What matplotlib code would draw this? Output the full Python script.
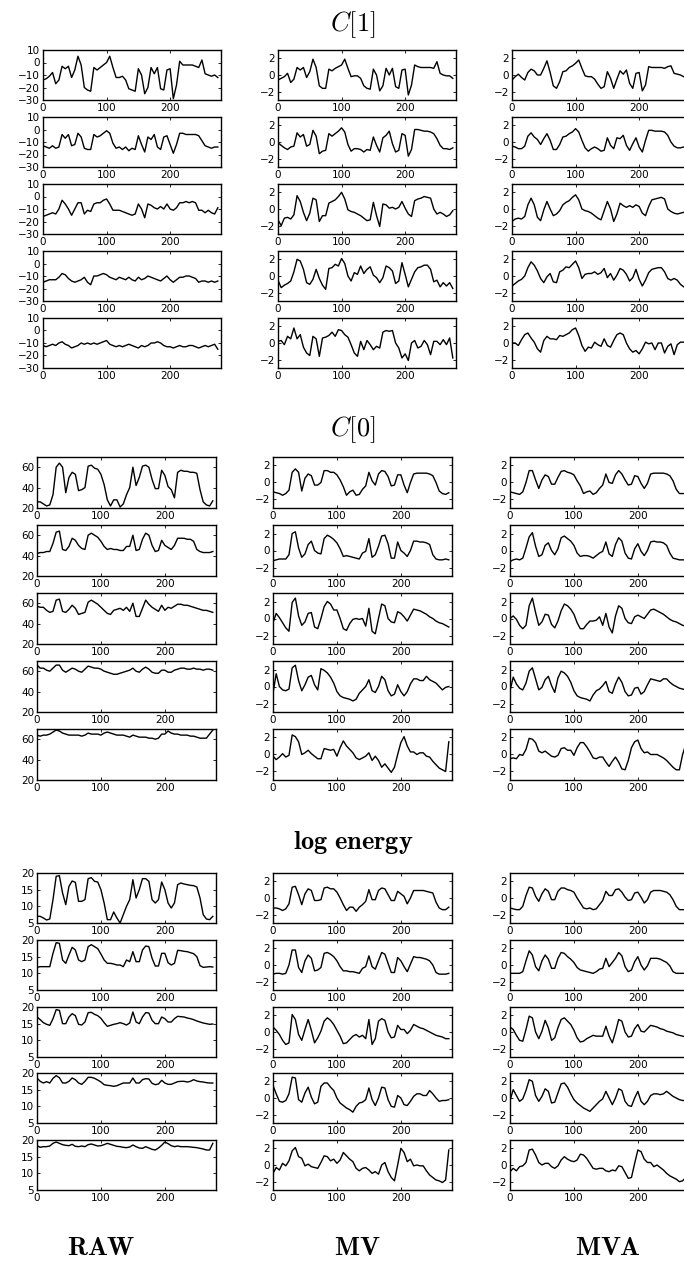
import numpy as np
import matplotlib
matplotlib.use('Agg')
import matplotlib.pyplot as plt

plt.rcParams['font.family'] = ['DejaVu Sans']
plt.rcParams['mathtext.fontset'] = 'cm'

# every 5th frame
frames = np.arange(0, 280, 5)

# ---- C[1] ----
c1_raw_1 = [-14, -13, -11, -8, -17, -14, -3, -5, -3, -12, -6, 5, -2, -20, -22, -23,
            -4, -6, -4, -2, 0, 5, -4, -12, -12, -11, -14, -21, -22, -23, -5, -10,
            -25, -20, -4, -9, -4, -21, -22, -6, -5, -29, -18, 1, -2, -2, -2, -2,
            -3, -4, 2, -9, -10, -11, -10, -12]
c1_raw_2 = [-13, -14, -15, -13, -15, -14, -4, -7, -4, -13, -12, -3, -6, -15, -16, -16,
            -4, -6, -5, -3, -1, -3, -11, -15, -14, -16, -14, -17, -15, -16, -5, -12,
            -18, -6, -8, -4, -14, -16, -6, -5, -12, -19, -12, -3, -3, -4, -4, -4,
            -4, -5, -9, -13, -14, -15, -14, -14]
c1_raw_3 = [-16, -15, -14, -13, -14, -10, -3, -6, -10, -15, -10, -5, -5, -14, -11, -12,
            -6, -5, -5, -3, -2, -6, -11, -11, -11, -12, -13, -14, -15, -14, -6, -10,
            -17, -6, -7, -9, -10, -8, -10, -6, -10, -11, -9, -5, -5, -4, -5, -4,
            -5, -11, -11, -13, -11, -13, -14, -9]
c1_raw_4 = [-15, -14, -13, -13, -13, -11, -8, -9, -12, -14, -15, -14, -13, -11, -15, -17,
            -10, -10, -9, -8, -9, -11, -12, -13, -11, -12, -13, -11, -13, -14, -11, -13,
            -12, -10, -11, -12, -13, -14, -12, -10, -13, -15, -13, -11, -11, -10, -10, -11,
            -12, -15, -14, -14, -15, -14, -15, -14]
c1_raw_5 = [-12, -13, -12, -11, -12, -10, -9, -11, -12, -14, -13, -12, -10, -11, -10, -11,
            -10, -11, -10, -9, -8, -11, -12, -13, -12, -13, -12, -11, -12, -13, -14, -12,
            -13, -12, -10, -10, -9, -10, -12, -13, -13, -14, -13, -12, -13, -13, -12, -12,
            -13, -14, -13, -12, -13, -12, -11, -15]

c1_mv_1 = [-0.6, -0.4, -0.2, 0.2, -0.9, -0.5, 0.9, 0.6, 0.9, -0.3, 0.4, 1.9, 0.9, -1.3, -1.6, -1.6,
           0.7, 0.5, 0.8, 1.0, 1.2, 1.9, 0.8, -0.2, -0.1, -0.1, -0.4, -1.3, -1.6, -1.7, 0.7, 0.0,
           -1.9, -1.3, 0.8, 0.0, 0.8, -1.4, -1.6, 0.6, 0.7, -2.4, -1.2, 1.2, 1.0, 0.9, 0.9, 0.9,
           0.9, 0.8, 1.6, 0.2, 0.0, -0.1, -0.1, -0.4]
c1_mv_2 = [-0.1, -0.4, -0.7, -0.9, -0.6, -0.5, 1.1, 0.6, 0.9, -0.5, -0.3, 1.4, 0.7, -1.4, -1.1, -1.0,
           1.0, 0.7, 1.0, 1.3, 1.7, 1.2, -0.3, -1.1, -0.8, -0.8, -0.9, -1.2, -0.9, -1.0, 0.6, -0.4,
           -1.2, 0.5, 0.8, 1.3, -0.2, -1.2, -1.0, 1.0, 0.8, -1.7, -0.9, 1.5, 1.5, 1.4, 1.3, 1.3,
           1.2, 1.0, 0.4, -0.4, -0.8, -0.8, -0.9, -0.7]
c1_mv_3 = [-1.3, -2.0, -1.1, -1.0, -1.2, -0.7, 1.6, 0.9, -0.4, -1.4, -0.5, 1.3, 1.1, -1.5, -0.8, -0.8,
           0.7, 0.9, 1.1, 1.5, 2.0, 1.2, -0.1, -0.3, -0.4, -0.6, -0.8, -1.1, -1.4, -1.3, 0.8, -0.8,
           -2.1, 0.6, 0.5, 0.1, 0.2, 0.0, 0.2, 0.9, 0.1, -0.6, -0.9, 1.0, 1.2, 1.3, 1.5, 1.4,
           1.3, 0.0, -0.6, -0.4, -0.6, -0.9, -0.7, -0.2]
c1_mv_4 = [-0.5, -1.4, -1.1, -0.9, -0.6, 0.5, 2.0, 1.8, 0.8, -0.8, -1.0, -0.4, 0.8, -0.3, -1.1, -1.6,
           0.9, 1.0, 1.4, 1.2, 2.1, 1.5, 0.0, -0.6, 0.4, 0.2, 1.2, 0.3, 0.8, 1.1, 0.1, -0.2,
           -0.8, -0.2, 1.2, 1.0, 0.6, -0.9, -0.6, 1.6, 0.2, -1.3, -0.4, 0.5, 1.0, 1.1, 1.3, 1.3,
           0.8, -0.7, -0.5, -1.3, -0.8, -1.2, -0.8, -1.5]
c1_mv_5 = [0.2, 0.3, -0.2, 0.8, 0.5, 1.8, 0.5, 1.0, -0.5, -1.2, -1.5, 0.8, 0.5, -1.6, 0.6, 0.7,
           0.9, 1.3, 0.8, 1.6, 1.5, 1.0, 0.7, -0.2, -1.2, -1.6, 0.2, -0.8, 0.3, -0.2, -0.8, -0.4,
           -0.6, 1.3, 1.5, 1.4, 1.5, 0.0, -0.6, -1.8, -1.3, -2.1, 0.0, 0.3, -0.6, -0.4, 0.3, -0.2,
           -1.4, 0.2, 0.2, -0.2, 0.4, -0.2, 0.6, -1.8]

c1_mva_1 = [-0.6, -0.2, 0.1, -0.3, -0.6, 0.3, 0.7, 0.5, 0.0, 0.0, 0.8, 1.7, 0.3, -1.3, -1.6, -0.8,
            0.4, 0.5, 0.9, 1.1, 1.4, 1.8, 0.8, -0.1, -0.2, -0.2, -0.5, -1.1, -1.6, -1.4, 0.4, -0.4,
            -1.6, -0.5, 0.5, 0.1, 0.6, -1.0, -1.6, 0.2, 0.3, -1.9, -1.2, 1.0, 0.9, 0.9, 0.9, 0.9,
            0.8, 1.0, 1.1, 0.2, 0.1, 0.0, -0.2, -0.4]
c1_mva_2 = [-0.5, -0.6, -0.8, -0.8, -0.5, 0.7, 1.1, 0.6, 0.3, -0.3, 0.4, 1.0, 0.2, -0.9, -0.9, -0.3,
            0.6, 0.7, 1.0, 1.2, 1.6, 1.2, 0.2, -0.7, -1.1, -0.8, -0.6, -0.8, -1.1, -1.0, 0.5, -0.4,
            -0.8, 0.5, 0.4, 0.8, -0.4, -1.0, -0.2, 0.5, -0.6, -1.2, 0.2, 1.4, 1.4, 1.3, 1.3, 1.3,
            1.2, 0.8, 0.0, -0.5, -0.7, -0.7, -0.6, -0.6]
c1_mva_3 = [-1.5, -1.2, -1.1, -1.2, -0.9, 0.5, 1.3, 0.5, -1.0, -1.4, -0.1, 0.9, 0.0, -0.8, -0.6, -0.2,
            0.5, 0.8, 1.0, 1.4, 1.7, 1.1, 0.0, -0.2, -0.3, -0.5, -0.8, -1.1, -1.3, -0.2, 0.9, 0.0,
            -1.5, -0.6, 0.7, 0.4, 0.2, 0.4, 0.2, 0.5, 0.3, -0.5, -0.8, 0.3, 1.1, 1.2, 1.3, 1.4,
            1.2, 0.0, -0.3, -0.5, -0.6, -0.5, -0.4, -0.5]
c1_mva_4 = [-1.2, -0.9, -0.6, -0.4, 0.0, 1.0, 1.7, 1.3, 0.6, -0.3, -0.8, -0.1, 0.3, -0.7, -0.8, 0.5,
            0.7, 1.1, 1.0, 1.4, 1.8, 1.0, -0.3, 0.2, 0.3, 0.3, 0.5, 0.2, 0.4, 0.9, -0.2, 0.3,
            -0.5, 0.1, 0.9, 0.7, 0.2, -0.6, -0.2, 0.8, -0.4, -1.2, -0.5, 0.4, 0.8, 0.9, 1.0, 1.0,
            0.5, -0.3, -0.5, -0.3, -0.5, -1.0, -1.3, -1.4]
c1_mva_5 = [0.0, 0.0, -0.3, 0.4, 1.0, 1.2, 0.6, 0.1, -0.7, -1.1, 0.3, 0.8, 0.5, 0.5, 0.4, 0.9,
            0.8, 1.0, 1.2, 1.6, 1.8, 0.9, -0.3, -1.0, -0.5, -0.6, 0.1, -0.2, -0.4, 0.5, -0.3, -0.5,
            0.3, 1.0, 1.2, 1.0, 0.0, -0.7, -1.1, -0.9, -1.3, -0.7, 0.1, -0.1, 0.0, -0.8, 0.0, 0.0,
            -1.2, -0.4, -0.1, -1.4, -0.2, 0.1, 0.1, 0.0]

# ---- C[0] ----
c0_raw_1 = [26, 26, 24, 22, 23, 33, 60, 64, 60, 35, 50, 55, 53, 37, 38, 40,
            61, 62, 59, 58, 53, 43, 28, 22, 28, 28, 21, 24, 33, 40, 60, 42,
            50, 61, 62, 60, 48, 39, 39, 57, 52, 41, 38, 30, 55, 57, 56, 56,
            55, 55, 54, 38, 26, 23, 22, 27]
c0_raw_2 = [42, 43, 43, 44, 44, 52, 63, 64, 46, 45, 49, 57, 55, 50, 47, 46,
            60, 62, 60, 58, 54, 49, 46, 47, 46, 46, 45, 45, 49, 49, 60, 45,
            46, 56, 62, 60, 50, 44, 45, 55, 50, 48, 46, 50, 57, 57, 57, 56,
            56, 54, 46, 44, 43, 43, 43, 44]
c0_raw_3 = [57, 56, 56, 53, 51, 52, 63, 64, 52, 51, 54, 58, 55, 49, 50, 51,
            61, 63, 61, 59, 56, 53, 50, 49, 53, 54, 55, 53, 56, 52, 60, 47,
            47, 55, 63, 59, 56, 54, 52, 58, 53, 56, 55, 57, 59, 59, 58, 58,
            57, 56, 55, 54, 53, 53, 52, 51]
c0_raw_4 = [66, 63, 63, 61, 60, 63, 66, 66, 61, 59, 61, 63, 62, 60, 59, 62,
            65, 64, 63, 63, 62, 60, 59, 58, 57, 57, 58, 59, 60, 61, 63, 60,
            59, 62, 64, 62, 59, 58, 58, 61, 61, 59, 59, 61, 62, 63, 63, 62,
            62, 63, 62, 62, 61, 62, 62, 61]
c0_raw_5 = [64, 63, 64, 64, 65, 67, 69, 68, 66, 65, 64, 64, 64, 64, 63, 64,
            66, 65, 65, 65, 64, 66, 67, 66, 65, 64, 64, 64, 63, 62, 64, 63,
            62, 62, 62, 61, 61, 60, 61, 65, 65, 68, 66, 65, 65, 64, 64, 64,
            63, 63, 62, 61, 61, 61, 65, 69]

c0_mv_1 = [-1.1, -1.2, -1.3, -1.5, -1.3, -0.9, 1.2, 1.6, 1.2, -1.0, 0.5, 1.0, 0.8, -0.3, -0.3, 0.0,
           1.4, 1.4, 1.2, 1.2, 0.9, 0.3, -0.5, -1.5, -1.1, -0.9, -1.5, -1.4, -0.8, -0.4, 1.2, 0.2,
           -0.3, 1.0, 1.4, 1.3, 0.7, -0.4, -0.3, 0.9, 0.9, -0.3, -1.2, 0.0, 1.0, 1.1, 1.1, 1.1,
           1.1, 1.0, 0.8, 0.0, -1.0, -1.3, -1.4, -1.2]
c0_mv_2 = [-1.2, -1.1, -1.0, -1.0, -1.0, -0.5, 2.0, 2.2, 0.3, -0.8, -0.4, 0.7, 1.1, 0.0, -0.3, -0.4,
           1.4, 1.8, 1.6, 1.3, 0.9, 0.2, -0.7, -0.6, -0.7, -0.8, -0.9, -1.0, -0.3, -0.1, 1.4, -0.8,
           -0.5, 0.5, 1.7, 1.8, 0.8, -0.9, -0.9, 1.0, 0.0, -0.3, -0.7, 0.0, 1.1, 1.1, 1.0, 1.0,
           0.9, 0.7, -0.5, -1.0, -1.1, -1.1, -1.0, -1.1]
c0_mv_3 = [-0.5, 0.6, 0.1, -0.5, -1.1, -1.5, 1.9, 2.4, 0.3, -0.8, -0.4, 0.6, 0.7, -1.0, -1.2, 0.0,
           1.4, 2.0, 1.7, 1.0, 1.0, 0.0, -1.2, -1.4, -0.6, -0.1, 0.0, -0.1, 0.0, -0.9, 1.2, -1.5,
           -1.8, 0.0, 1.7, 1.5, 0.0, -0.4, -0.5, 0.8, 0.6, 0.2, -0.3, 0.4, 1.1, 1.0, 0.9, 0.7,
           0.5, 0.2, 0.0, -0.3, -0.5, -0.6, -0.8, -1.0]
c0_mv_4 = [-0.8, 1.5, 0.0, -0.4, -0.5, -0.3, 2.2, 2.5, 0.7, -0.5, 0.2, 1.1, 1.3, 0.2, -0.4, 2.1,
           1.9, 1.6, 1.1, 0.4, -0.6, -1.1, -1.3, -1.4, -1.5, -1.7, -1.5, -0.8, -0.4, 0.0, 0.8, -0.5,
           -0.7, 0.0, 1.2, 0.8, -0.5, -1.1, -0.9, 0.2, -0.6, -1.1, -0.6, 0.3, 0.9, 0.9, 0.7, 0.7,
           1.2, 0.8, 0.6, 0.4, 0.0, -0.4, -0.1, 0.0]
c0_mv_5 = [-0.2, -0.6, -0.3, 0.1, -0.3, -0.1, 2.3, 2.1, 1.5, 0.0, 0.2, 0.5, 0.1, -0.2, -0.5, -0.5,
           0.7, 0.6, 0.5, 0.6, -0.2, 0.8, 1.6, 1.0, 0.6, 0.2, -0.4, -0.6, -0.4, -0.2, 0.2, -0.7,
           -0.2, -0.7, -1.5, -1.1, -1.6, -2.1, -1.5, 0.0, 1.4, 2.1, 1.0, 0.3, 0.3, 0.0, 0.2, 0.2,
           -0.2, -0.3, -0.8, -1.2, -1.6, -1.8, -2.0, 1.5]

c0_mva_1 = [-1.1, -1.2, -1.3, -1.4, -1.1, 0.0, 1.4, 1.4, 0.3, -0.7, 0.3, 0.9, 0.7, -0.2, -0.2, 0.6,
            1.3, 1.4, 1.2, 1.1, 0.9, 0.2, -0.4, -1.3, -1.1, -1.0, -1.4, -1.2, -0.7, -0.3, 1.0, 0.0,
            -0.1, 0.9, 1.4, 1.0, 0.3, -0.3, -0.2, 0.8, 0.7, -0.1, -0.7, -0.1, 1.0, 1.1, 1.1, 1.1,
            1.1, 1.0, 0.8, 0.2, -0.8, -1.3, -1.3, -1.3]
c0_mva_2 = [-1.3, -1.1, -1.0, -1.1, -0.9, 0.3, 1.6, 2.1, 0.5, -0.7, -0.5, 0.6, 0.9, 0.0, -0.5, 0.2,
            1.5, 1.7, 1.4, 1.1, 0.6, -0.3, -0.7, -0.6, -0.6, -0.7, -0.9, -0.6, -0.3, -0.1, 1.0, -0.4,
            -0.7, 0.7, 1.5, 1.1, -0.3, -0.9, -1.0, 0.2, 0.8, -0.1, -0.6, 0.0, 1.0, 1.1, 1.0, 1.0,
            0.9, 0.6, -0.3, -0.9, -1.0, -1.1, -1.1, -1.1]
c0_mva_3 = [0.0, 0.3, -0.1, -0.8, -1.2, -0.8, 1.5, 2.4, 0.7, -0.8, -0.4, 0.5, 0.4, -0.7, -1.1, -0.3,
            0.9, 1.7, 1.5, 1.1, 0.5, -0.5, -1.2, -1.2, -0.7, -0.3, -0.3, -0.2, 0.2, -0.8, 0.6, -1.0,
            -1.7, 0.3, 1.5, 1.2, 0.0, -0.5, -0.6, 0.2, 0.4, 0.2, 0.0, 0.5, 1.0, 1.1, 0.9, 0.7,
            0.5, 0.2, -0.1, -0.3, -0.4, -0.6, -0.8, -0.9]
c0_mva_4 = [-0.5, 1.1, 0.3, -0.2, -0.4, 0.4, 1.8, 2.2, 0.9, -0.4, -0.1, 0.8, 1.2, 0.1, -0.7, 1.0,
            1.8, 1.6, 1.2, 0.5, -0.5, -1.1, -1.3, -1.4, -1.5, -1.7, -1.0, -0.5, -0.3, 0.1, 0.6, -0.6,
            -0.8, 0.3, 1.1, 0.5, -0.6, -1.1, -1.0, -0.2, -0.1, -0.9, -0.6, 0.2, 0.9, 0.8, 0.7, 0.6,
            0.9, 0.9, 0.5, 0.2, 0.0, -0.2, -0.3, -0.4]
c0_mva_5 = [-0.5, -0.4, -0.5, 0.0, -0.1, 0.6, 1.9, 1.8, 1.4, 0.4, 0.2, 0.4, 0.1, -0.2, -0.3, -0.1,
            0.7, 0.8, 0.5, 0.5, -0.1, 0.8, 1.4, 1.4, 0.9, 0.3, -0.4, -0.5, -0.3, -0.3, -0.9, -1.4,
            -0.8, -0.3, -0.9, -1.7, -1.8, -0.7, 0.8, 1.5, 1.7, 0.7, 0.2, 0.3, 0.0, 0.0, 0.0, -0.2,
            -0.4, -0.7, -1.1, -1.5, -1.8, -1.8, 0.0, 1.2]

# ---- log energy ----
le_raw_1 = [7, 7, 6.5, 5.9, 6.2, 12, 19, 19.2, 14, 10.5, 16, 17.6, 17.2, 11.5, 11.5, 12,
            18.3, 18.6, 17.5, 17.3, 15, 11, 6, 6, 8.3, 6.5, 5, 7.5, 10, 12, 18, 12.5,
            15, 18.3, 18.3, 17.5, 12, 11, 12, 17.3, 15, 11, 9.5, 11, 16.5, 17, 16.7, 16.5,
            16.3, 16.2, 15.8, 12.5, 7.5, 6.2, 6, 7]
le_raw_2 = [11.8, 12, 12, 12, 12, 16, 19.2, 19, 14, 13, 15.5, 17.8, 17, 14, 13.5, 14,
            18, 18.6, 18, 17.4, 15.8, 14, 13, 13, 12.8, 12.5, 12.5, 12, 14, 13.5, 16.5, 13.5,
            13.5, 17, 18.2, 18, 14.5, 12.2, 12.2, 16, 16, 13.2, 12.5, 13, 16.9, 16.8, 16.6, 16.5,
            16.2, 15.9, 15, 12.3, 11.8, 11.9, 12, 11.9]
le_raw_3 = [17, 16.2, 15.3, 14.8, 14.5, 16.5, 19.2, 19, 15, 15, 17, 18, 17.4, 14.8, 14.6, 15.5,
            18.3, 18.4, 17.8, 17.4, 16.6, 15.3, 14.2, 14.5, 14.8, 15, 15.3, 15, 14.6, 15.2, 18.5, 15.5,
            15, 17, 18.3, 18.2, 16, 15, 15, 17, 16.5, 15.5, 15.5, 16.5, 17.2, 17.1, 17, 16.7,
            16.5, 16.2, 15.8, 15.5, 15.2, 15, 14.8, 14.9]
le_raw_4 = [18.5, 17.5, 17, 17.4, 17, 18.4, 19.2, 18.6, 17, 17, 17.5, 18.5, 18, 17, 16.6, 17.5,
            18.7, 18.7, 18.4, 17.9, 17.3, 16.5, 16.3, 16.2, 16, 16.2, 16.6, 17, 17, 17, 18.5, 17,
            17, 18, 18.3, 18.2, 16.9, 16.5, 16.7, 17.8, 17, 16.6, 16.6, 17, 17.4, 17.5, 17.5, 17.3,
            17.5, 18, 17.6, 17.4, 17.3, 17.1, 17, 17]
le_raw_5 = [18.3, 17.8, 18, 18, 18.2, 19, 19.4, 19, 18.6, 18.4, 18.3, 18.7, 18.1, 18, 18.2, 18,
            18.6, 18.8, 18.5, 18.2, 18.3, 18.6, 19, 18.7, 18.4, 18.1, 18, 17.8, 17.7, 17.9, 18.5, 18,
            17.6, 17.5, 18, 17.6, 17.2, 17, 17.6, 18.4, 19.4, 18.9, 18.3, 18, 18.2, 18, 18, 18,
            17.9, 17.8, 17.7, 17.5, 17.3, 17, 17, 19]

le_mv_1 = [-1.2, -1.2, -1.3, -1.5, -1.3, -0.7, 1.3, 1.4, 0.4, -0.8, 0.5, 1.1, 0.9, -0.3, -0.3, -0.2,
           1.2, 1.3, 1.1, 1.1, 0.7, 0.0, -0.8, -1.5, -1.1, -1.1, -1.6, -1.1, -0.8, -0.4, 1.0, -0.2,
           -0.2, 0.9, 1.2, 1.1, 0.4, -0.3, -0.3, 0.8, 0.5, 0.2, -0.7, 0.0, 0.9, 0.9, 0.9, 0.9,
           0.8, 0.7, 0.6, -0.5, -1.2, -1.4, -1.4, -1.1]
le_mv_2 = [-1.1, -1.0, -1.0, -1.1, -1.0, 0.0, 1.8, 1.8, -0.3, -0.9, 0.5, 1.2, 0.8, -0.7, -0.6, -0.3,
           1.4, 1.5, 1.3, 1.0, 0.5, -0.2, -0.7, -0.7, -0.8, -0.8, -0.9, -1.0, -0.4, -0.2, 1.1, -0.2,
           -0.5, 0.5, 1.5, 1.3, 0.2, -0.9, -0.9, 0.9, 0.5, -0.2, -0.8, 0.1, 1.0, 0.9, 0.9, 0.8,
           0.7, 0.5, 0.0, -0.9, -1.1, -1.1, -1.1, -1.0]
le_mv_3 = [0.6, 0.2, -0.3, -1.0, -1.5, -1.3, 2.1, 1.5, -0.3, -1.0, 0.3, 1.5, 0.2, -1.3, -0.7, 0.1,
           1.3, 1.7, 1.4, 0.9, 0.2, -0.5, -1.4, -1.3, -0.9, -0.5, -0.3, -0.6, -0.4, -0.8, 1.5, -1.5,
           -0.8, 1.3, 1.6, 1.4, 0.0, -0.7, -0.6, 0.8, 0.3, 0.3, -0.2, 0.2, 0.9, 0.7, 0.5, 0.4,
           0.2, 0.0, -0.2, -0.4, -0.5, -0.6, -0.8, -0.8]
le_mv_4 = [1.5, 0.5, -0.4, -0.5, -0.3, 0.5, 2.5, 2.4, -0.2, -0.5, 0.6, 1.3, 0.1, -0.7, -0.5, 1.4,
           1.8, 1.8, 1.3, 0.9, 0.0, -0.6, -0.9, -1.2, -1.4, -1.7, -1.0, -0.6, -0.5, -0.2, 1.2, -0.2,
           -0.9, 0.0, 1.3, 1.2, -0.2, -1.0, -1.1, 0.3, 0.0, -0.8, -0.9, -0.4, 0.2, 0.5, 0.5, 0.3,
           0.3, 0.9, 0.5, 0.0, -0.4, -0.3, -0.3, -0.2]
le_mv_5 = [-1.0, -0.3, -0.6, 0.2, -0.1, 0.5, 1.7, 2.1, 1.0, 0.8, -0.1, 0.1, -0.2, -0.3, -0.4, 0.3,
           1.1, 1.0, 0.5, 0.7, 0.2, 0.6, 1.5, 1.1, 0.7, 0.4, -0.4, -0.7, -0.4, -0.3, -0.6, -1.0,
           -0.8, -1.1, 0.0, 0.3, -0.8, -1.5, -1.9, 0.0, 2.0, 1.5, 0.4, 0.7, -0.1, 0.0, -0.1, -0.1,
           -0.7, -1.2, -1.5, -1.8, -1.9, -2.1, -1.8, 1.8]

le_mva_1 = [-1.2, -1.3, -1.4, -1.4, -1.0, 0.3, 1.3, 1.2, 0.2, -0.4, 0.5, 1.1, 0.8, -0.2, -0.2, 0.8,
            1.2, 1.2, 1.0, 0.9, 0.7, 0.0, -0.6, -1.2, -1.3, -1.2, -1.4, -1.3, -0.8, -0.3, 0.8, 0.3,
            0.3, 1.0, 1.1, 0.7, 0.1, -0.3, -0.2, 0.6, 0.7, 0.1, -0.6, -0.2, 0.7, 0.9, 0.9, 0.9,
            0.8, 0.7, 0.4, -0.2, -1.0, -1.4, -1.4, -1.4]
le_mva_2 = [-1.0, -1.0, -1.0, -1.0, -0.8, 0.5, 1.7, 1.2, -0.2, -0.7, 0.5, 1.2, 0.7, -0.4, -0.4, 0.8,
            1.5, 1.4, 1.0, 0.7, 0.3, -0.3, -0.6, -0.7, -0.8, -0.9, -1.0, -0.8, -0.5, -0.4, 0.8, -0.2,
            0.3, 0.8, 1.5, 1.1, -0.2, -0.8, -0.6, 0.4, 1.0, 0.0, -0.6, -0.1, 0.8, 0.8, 0.8, 0.7,
            0.5, 0.3, -0.1, -0.8, -1.0, -1.0, -1.0, -1.0]
le_mva_3 = [0.6, 0.3, -0.4, -1.0, -1.1, 0.3, 1.9, 1.7, 0.0, -0.8, 0.1, 1.4, 0.5, -1.0, -0.7, 0.5,
            1.5, 1.7, 1.3, 0.9, 0.2, -0.7, -1.2, -1.1, -0.8, -0.6, -0.4, -0.5, -0.5, -0.5, 0.7, -0.5,
            -1.3, 0.0, 1.5, 1.3, 0.0, -0.6, -0.5, 0.4, 0.9, 0.1, 0.0, 0.4, 0.8, 0.7, 0.6, 0.4,
            0.3, 0.1, 0.0, -0.1, -0.3, -0.4, -0.5, -0.6]
le_mva_4 = [-0.3, 1.0, 0.3, -0.4, -0.1, 0.9, 2.2, 2.0, 0.3, -0.4, 0.2, 1.1, 0.8, -0.6, -0.5, 0.6,
            1.7, 1.8, 1.3, 0.5, -0.2, -0.6, -0.9, -1.2, -1.4, -1.6, -1.2, -0.8, -0.4, -0.1, 0.8, 0.0,
            -0.8, 0.0, 1.1, 0.9, -0.4, -0.9, -1.0, 0.0, 0.8, -0.4, -0.8, -0.4, 0.3, 0.5, 0.5, 0.4,
            0.5, 0.8, 0.5, 0.2, 0.0, -0.2, -0.3, -0.3]
le_mva_5 = [-0.8, -0.4, -0.7, -0.2, -0.1, 0.3, 1.8, 1.9, 1.2, 0.3, 0.0, 0.2, 0.2, -0.2, -0.4, -0.1,
            0.6, 1.0, 0.7, 0.5, 0.4, 0.6, 1.3, 1.2, 0.8, 0.2, -0.4, -0.5, -0.4, -0.4, -0.7, -0.8,
            -0.6, -0.7, -0.1, -0.2, -0.9, -1.6, -1.5, 0.2, 1.8, 1.6, 0.7, 0.3, 0.3, -0.2, 0.0, -0.3,
            -0.6, -1.0, -1.3, -1.5, -1.7, -2.0, -1.9, -1.5]

W, H = 684, 1263
fig = plt.figure(figsize=(W / 100, H / 100), dpi=100)


def panel(left, top, width, height):
    # place an axes by its pixel box (top-left origin)
    return fig.add_axes([left / W, 1 - (top + height) / H, width / W, height / H])


groups = [
    (r'$C[1]$', 25, [50, 117, 184, 251, 318], 50, [43, 278, 512], 178,
     (-30, 10), [-30, -20, -10, 0, 10],
     [c1_raw_1, c1_raw_2, c1_raw_3, c1_raw_4, c1_raw_5],
     [c1_mv_1, c1_mv_2, c1_mv_3, c1_mv_4, c1_mv_5],
     [c1_mva_1, c1_mva_2, c1_mva_3, c1_mva_4, c1_mva_5]),
    (r'$C[0]$', 430, [457, 525, 593, 661, 729], 51, [37, 273, 510], 179,
     (20, 70), [20, 40, 60],
     [c0_raw_1, c0_raw_2, c0_raw_3, c0_raw_4, c0_raw_5],
     [c0_mv_1, c0_mv_2, c0_mv_3, c0_mv_4, c0_mv_5],
     [c0_mva_1, c0_mva_2, c0_mva_3, c0_mva_4, c0_mva_5]),
    (r'$\mathbf{log\ energy}$', 842, [873, 940, 1007, 1073, 1140], 50, [37, 273, 510], 179,
     (5, 20), [5, 10, 15, 20],
     [le_raw_1, le_raw_2, le_raw_3, le_raw_4, le_raw_5],
     [le_mv_1, le_mv_2, le_mv_3, le_mv_4, le_mv_5],
     [le_mva_1, le_mva_2, le_mva_3, le_mva_4, le_mva_5]),
]

for title, ty, tops, h, lefts, w, raw_lim, raw_ticks, raw, mv, mva in groups:
    fig.text(353 / W, 1 - ty / H, title, ha='center', va='center', fontsize=19)
    for r in range(5):
        for c, series in enumerate([raw, mv, mva]):
            ax = panel(lefts[c], tops[r], w, h)
            vals = series[r]
            ax.plot(frames[:len(vals)], vals, color='black', lw=1.0)
            ax.set_xlim(0, 280)
            ax.set_xticks([0, 100, 200])
            if c == 0:
                ax.set_ylim(*raw_lim)
                ax.set_yticks(raw_ticks)
            else:
                ax.set_ylim(-3, 3)
                ax.set_yticks([-2, 0, 2])
            ax.tick_params(direction='in', length=2.5, width=0.6, top=True, right=True,
                           labelsize=7.5, pad=2)
            for s in ax.spines.values():
                s.set_linewidth(1.0)

for x, label in [(101, 'RAW'), (357, 'MV'), (608, 'MVA')]:
    fig.text(x / W, 1 - 1248 / H, r'$\mathbf{' + label + '}$', ha='center', va='center',
             fontsize=19)

fig.savefig('out.png', dpi=100)
